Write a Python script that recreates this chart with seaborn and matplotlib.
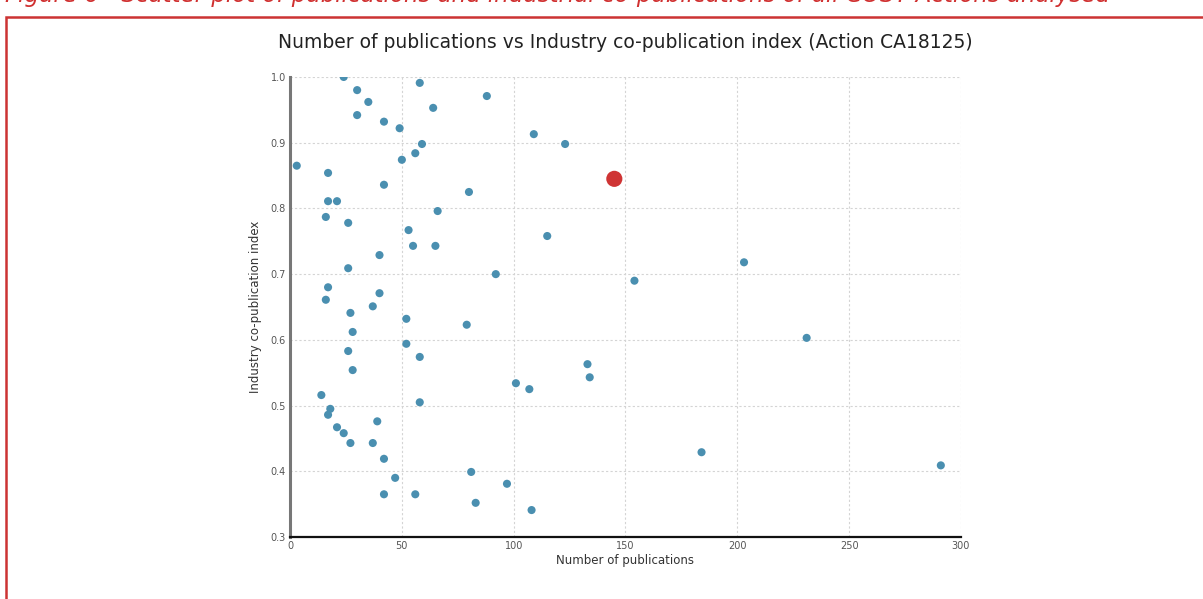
import pandas as pd
import matplotlib.pyplot as plt
import seaborn as sns
from matplotlib.patches import Rectangle

# other COST Actions
publications = [24, 30, 58, 88, 35, 64, 30, 42, 49, 109, 123, 59, 56, 50, 3, 17,
                42, 80, 17, 21, 66, 16, 26, 115, 53, 55, 65, 40, 26, 92, 203, 154,
                17, 16, 40, 37, 27, 52, 28, 79, 231, 26, 52, 58, 133, 134, 28, 101,
                107, 14, 18, 17, 58, 39, 21, 24, 27, 37, 42, 184, 291, 81, 47, 97,
                42, 56, 83, 108]
copub_index = [1.0, 0.980, 0.991, 0.971, 0.962, 0.953, 0.942, 0.932, 0.922, 0.913,
               0.898, 0.898, 0.884, 0.874, 0.865, 0.854, 0.836, 0.825, 0.811, 0.811,
               0.796, 0.787, 0.778, 0.758, 0.767, 0.743, 0.743, 0.729, 0.709, 0.700,
               0.718, 0.690, 0.680, 0.661, 0.671, 0.651, 0.641, 0.632, 0.612, 0.623,
               0.603, 0.583, 0.594, 0.574, 0.563, 0.543, 0.554, 0.534, 0.525, 0.516,
               0.495, 0.486, 0.505, 0.476, 0.467, 0.458, 0.443, 0.443, 0.419, 0.429,
               0.409, 0.399, 0.390, 0.381, 0.365, 0.365, 0.352, 0.341]

# the Action itself
action_pubs = [145]
action_index = [0.845]

x_ticks = [0, 50, 100, 150, 200, 250, 300]
y_ticks = [0.3, 0.4, 0.5, 0.6, 0.7, 0.8, 0.9, 1.0]

df = pd.DataFrame({"pubs": publications, "idx": copub_index})
df_action = pd.DataFrame({"pubs": action_pubs, "idx": action_index})

sns.set_theme(style="white")
plt.rcParams["font.family"] = ["DejaVu Sans"]

fig = plt.figure(figsize=(12.03, 5.99), dpi=100)
ax = fig.add_axes([0.2411, 0.1035, 0.5577, 0.768])

sns.scatterplot(data=df, x="pubs", y="idx", color="#4a8fb0", s=34,
                edgecolor="none", ax=ax, zorder=3)
sns.scatterplot(data=df_action, x="pubs", y="idx", color="#cf3434", s=135,
                edgecolor="none", ax=ax, zorder=4)

ax.set_xlim(0, 300)
ax.set_ylim(0.3, 1.0)
ax.set_xticks(x_ticks)
ax.set_yticks(y_ticks)
ax.set_xticklabels([str(t) for t in x_ticks])
ax.set_yticklabels([f"{t:.1f}" for t in y_ticks])
ax.grid(True, color="#d4d4d4", linestyle=(0, (2, 2)), linewidth=0.8)
ax.set_axisbelow(True)

for side in ["top", "right"]:
    ax.spines[side].set_visible(False)
ax.spines["left"].set_color("#777777")
ax.spines["left"].set_linewidth(2.2)
ax.spines["bottom"].set_color("#111111")
ax.spines["bottom"].set_linewidth(1.6)

ax.tick_params(axis="both", length=0, labelsize=7, labelcolor="#555555", pad=3)
ax.set_xlabel("Number of publications", fontsize=8.5, color="#333333", labelpad=2)
ax.set_ylabel("Industry co-publication index", fontsize=8.5, color="#333333", labelpad=6)
ax.set_title("Number of publications vs Industry co-publication index (Action CA18125)",
             fontsize=13.5, color="#222222", pad=21)

# red frame and clipped caption from the surrounding report
fig.patches.append(Rectangle((6 / 1203, -0.05), 1.2, (599 - 17) / 599 + 0.05,
                             transform=fig.transFigure, fill=False,
                             edgecolor="#cc3333", linewidth=1.8))
fig.text(0.004, 1.008,
         "Figure 6 - Scatter plot of publications and industrial co-publications of all COST Actions analysed",
         color="#d03030", fontsize=16.5, style="italic", ha="left", va="center")

fig.savefig("out.png", dpi=100)
